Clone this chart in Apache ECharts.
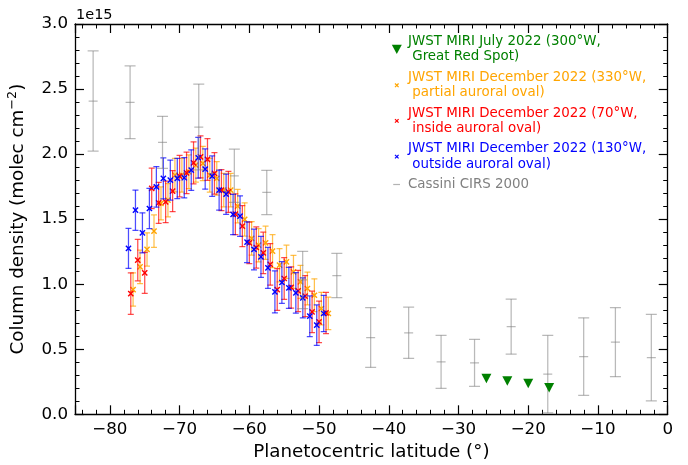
<!DOCTYPE html>
<html>
<head>
<meta charset="utf-8">
<script src="https://cdn.jsdelivr.net/npm/echarts@6/dist/echarts.min.js"></script>
<style>
  html, body { margin: 0; padding: 0; background: #fff; }
  #chart { width: 688px; height: 465px; }
</style>
</head>
<body>
<div id="chart"></div>
<script>
// ---- Data (column density in units of 1e15 molec cm^-2) ----
const FONT = 'DejaVu Sans';

// Cassini CIRS 2000
const cassiniLat = [-82.4, -77.1, -72.45, -67.25, -62.15, -57.5, -52.35, -47.45, -42.6, -37.15, -32.5, -27.7, -22.45, -17.2, -12.05, -7.5, -2.35];
const cassiniVal = [2.408, 2.398, 2.090, 2.208, 1.833, 1.705, 1.033, 1.066, 0.590, 0.626, 0.403, 0.395, 0.674, 0.308, 0.444, 0.554, 0.436];
const cassiniErr = [0.385, 0.280, 0.200, 0.330, 0.205, 0.170, 0.220, 0.170, 0.230, 0.197, 0.204, 0.180, 0.212, 0.298, 0.298, 0.265, 0.332];

// JWST MIRI July 2022, Great Red Spot
const grsLat = [-26, -23, -20, -17];
const grsVal = [0.275, 0.256, 0.237, 0.205];

// JWST MIRI December 2022, 330°W (partial auroral oval)
const orangeLat = [-76.67, -75.67, -74.67, -73.67, -72.67, -71.67, -70.67, -69.67, -68.67, -67.67, -66.67, -65.67, -64.67, -63.67, -62.67, -61.67, -60.67, -59.67, -58.67, -57.67, -56.67, -55.67, -54.67, -53.67, -52.67, -51.67, -50.67, -49.67, -48.67];
const orangeVal = [0.959, 1.133, 1.267, 1.408, 1.621, 1.646, 1.838, 1.838, 1.864, 1.915, 1.928, 1.838, 1.813, 1.723, 1.723, 1.600, 1.498, 1.352, 1.300, 1.318, 1.254, 1.146, 1.172, 1.095, 1.018, 0.967, 0.915, 0.813, 0.775];
const orangeErr = [0.128, 0.128, 0.128, 0.124, 0.127, 0.128, 0.129, 0.130, 0.130, 0.131, 0.132, 0.130, 0.129, 0.128, 0.128, 0.128, 0.128, 0.129, 0.128, 0.128, 0.127, 0.128, 0.128, 0.127, 0.127, 0.126, 0.126, 0.125, 0.125];

// JWST MIRI December 2022, 70°W (inside auroral oval)
const redLat = [-77.0, -76.0, -75.0, -74.0, -73.0, -72.0, -71.0, -70.0, -69.0, -68.0, -67.0, -66.0, -65.0, -64.0, -63.0, -62.0, -61.0, -60.0, -59.0, -58.0, -57.0, -56.0, -55.0, -54.0, -53.0, -52.0, -51.0, -50.0, -49.0];
const redVal = [0.928, 1.185, 1.087, 1.736, 1.625, 1.633, 1.715, 1.831, 1.856, 1.933, 1.979, 1.959, 1.852, 1.723, 1.710, 1.538, 1.446, 1.318, 1.282, 1.241, 1.152, 0.959, 1.044, 0.975, 0.948, 0.908, 0.787, 0.710, 0.779];
const redErr = [0.159, 0.159, 0.157, 0.156, 0.158, 0.160, 0.158, 0.159, 0.160, 0.161, 0.162, 0.160, 0.159, 0.158, 0.158, 0.157, 0.158, 0.159, 0.158, 0.159, 0.160, 0.161, 0.160, 0.159, 0.158, 0.158, 0.159, 0.160, 0.158];

// JWST MIRI December 2022, 130°W (outside auroral oval)
const blueLat = [-77.33, -76.33, -75.33, -74.33, -73.33, -72.33, -71.33, -70.33, -69.33, -68.33, -67.33, -66.33, -65.33, -64.33, -63.33, -62.33, -61.33, -60.33, -59.33, -58.33, -57.33, -56.33, -55.33, -54.33, -53.33, -52.33, -51.33, -50.33, -49.33];
const blueVal = [1.275, 1.569, 1.395, 1.582, 1.748, 1.813, 1.800, 1.813, 1.818, 1.877, 1.972, 1.885, 1.831, 1.723, 1.692, 1.536, 1.523, 1.323, 1.267, 1.210, 1.125, 0.941, 1.013, 0.972, 0.933, 0.895, 0.754, 0.685, 0.775];
const blueErr = [0.154, 0.155, 0.154, 0.154, 0.156, 0.158, 0.154, 0.155, 0.155, 0.156, 0.157, 0.155, 0.155, 0.154, 0.155, 0.155, 0.156, 0.157, 0.156, 0.157, 0.158, 0.162, 0.160, 0.157, 0.156, 0.154, 0.156, 0.156, 0.140];

// Axis tick labels
const xTickValues = [-80, -70, -60, -50, -40, -30, -20, -10, 0];
const yTickValues = [0.0, 0.5, 1.0, 1.5, 2.0, 2.5, 3.0];

// Legend entries (two-line labels)
const legendEntries = [
  { lines: ['JWST MIRI July 2022 (300°W,', ' Great Red Spot)'], color: '#008000', icon: 'tri' },
  { lines: ['JWST MIRI December 2022 (330°W,', ' partial auroral oval)'], color: '#ffa500', icon: 'x' },
  { lines: ['JWST MIRI December 2022 (70°W,', ' inside auroral oval)'], color: '#ff0000', icon: 'x' },
  { lines: ['JWST MIRI December 2022 (130°W,', ' outside auroral oval)'], color: '#0000ff', icon: 'x' },
  { lines: ['Cassini CIRS 2000'], color: '#808080', icon: 'dash' }
];

// ---- Helpers ----
function zip3(a, b, c) { return a.map((v, i) => [v, b[i], c[i]]); }

// Error bar with caps, plus an 'x' marker or a short centre dash
function errorBarRenderer(color, barOpacity, capHalf, centre) {
  return function (params, api) {
    const x = api.value(0), y = api.value(1), e = api.value(2);
    const pc = api.coord([x, y]);
    const pt = api.coord([x, y + e]);
    const pb = api.coord([x, y - e]);
    const st = { stroke: color, lineWidth: 1.25, opacity: barOpacity };
    const kids = [
      { type: 'line', shape: { x1: pt[0], y1: pt[1], x2: pb[0], y2: pb[1] }, style: st },
      { type: 'line', shape: { x1: pt[0] - capHalf, y1: pt[1], x2: pt[0] + capHalf, y2: pt[1] }, style: st },
      { type: 'line', shape: { x1: pb[0] - capHalf, y1: pb[1], x2: pb[0] + capHalf, y2: pb[1] }, style: st }
    ];
    if (centre === 'x') {
      const s = 2.6;
      const ms = { stroke: color, lineWidth: 1.4 };
      kids.push({ type: 'line', shape: { x1: pc[0] - s, y1: pc[1] - s, x2: pc[0] + s, y2: pc[1] + s }, style: ms });
      kids.push({ type: 'line', shape: { x1: pc[0] - s, y1: pc[1] + s, x2: pc[0] + s, y2: pc[1] - s }, style: ms });
    } else if (centre === 'dash') {
      kids.push({ type: 'line', shape: { x1: pc[0] - 4.5, y1: pc[1], x2: pc[0] + 4.5, y2: pc[1] }, style: st });
    }
    return { type: 'group', children: kids };
  };
}

function errorSeries(name, lat, val, err, color, barOpacity, capHalf, centre, z) {
  return {
    name: name,
    type: 'custom',
    xAxisIndex: 0, yAxisIndex: 0,
    data: zip3(lat, val, err),
    encode: { x: 0, y: 1 },
    renderItem: errorBarRenderer(color, barOpacity, capHalf, centre),
    clip: true,
    silent: true,
    z: z
  };
}

const axisCommon = {
  axisLine: { show: true, onZero: false, lineStyle: { color: '#000', width: 1.3 } },
  axisTick: { show: true, inside: true, length: 9, lineStyle: { color: '#000', width: 1.2 } },
  minorTick: { show: true, splitNumber: 5, length: 4.5, lineStyle: { color: '#000', width: 1 } },
  splitLine: { show: false },
  minorSplitLine: { show: false }
};

const xFmt = v => (xTickValues.indexOf(v) >= 0 ? (v < 0 ? '\u2212' + (-v) : String(v)) : '');
const yFmt = v => (yTickValues.indexOf(Math.round(v * 10) / 10) >= 0 ? v.toFixed(1) : '');

// ---- Legend drawn as graphic elements ----
const legendGraphics = [];
const legendLeft = 408;
const entryTops = [41.7, 77.7, 113.3, 149.0, 184.5];
legendEntries.forEach((entry, i) => {
  const y0 = entryTops[i];
  entry.lines.forEach((line, j) => {
    legendGraphics.push({
      type: 'text', x: legendLeft, y: y0 + j * 15.2,
      style: { text: line, fill: entry.color, font: '13.4px "' + FONT + '"', textVerticalAlign: 'middle', textAlign: 'left' },
      silent: true
    });
  });
  const cy = entry.lines.length === 2 ? y0 + 7.6 : y0;
  const cx = 396.8;
  if (entry.icon === 'tri') {
    legendGraphics.push({ type: 'polygon', shape: { points: [[cx - 5, cy - 4.6], [cx + 5, cy - 4.6], [cx, cy + 4.6]] }, style: { fill: entry.color }, silent: true });
  } else if (entry.icon === 'x') {
    const s = 1.8;
    legendGraphics.push({ type: 'line', shape: { x1: cx - s, y1: cy - s, x2: cx + s, y2: cy + s }, style: { stroke: entry.color, lineWidth: 1.2 }, silent: true });
    legendGraphics.push({ type: 'line', shape: { x1: cx - s, y1: cy + s, x2: cx + s, y2: cy - s }, style: { stroke: entry.color, lineWidth: 1.2 }, silent: true });
  } else {
    legendGraphics.push({ type: 'line', shape: { x1: cx - 3.6, y1: cy, x2: cx + 3.2, y2: cy }, style: { stroke: entry.color, lineWidth: 1.2, opacity: 0.6 }, silent: true });
  }
});
// scale offset label of the y axis
legendGraphics.push({
  type: 'text', x: 76, y: 15,
  style: { text: '1e15', fill: '#000', font: '14.5px "' + FONT + '"', textVerticalAlign: 'middle', textAlign: 'left' },
  silent: true
});

const chart = echarts.init(document.getElementById('chart'), null, { renderer: 'canvas' });

chart.setOption({
  animation: false,
  backgroundColor: '#fff',
  textStyle: { fontFamily: FONT },
  grid: { left: 75, top: 24, right: 20.3, bottom: 50.7, containLabel: false, outerBoundsMode: 'none' },
  xAxis: [
    Object.assign({}, axisCommon, {
      type: 'value', position: 'bottom', min: -85, max: 0,
      splitNumber: 9, minInterval: 10, maxInterval: 10,
      axisLabel: { show: true, inside: false, margin: 7, showMinLabel: false, formatter: xFmt, color: '#000', fontSize: 16.7, fontFamily: FONT },
      name: 'Planetocentric latitude (°)', nameLocation: 'middle', nameGap: 28,
      nameTextStyle: { fontSize: 18.3, color: '#000', fontFamily: FONT }
    }),
    Object.assign({}, axisCommon, {
      type: 'value', position: 'top', min: -85, max: 0,
      splitNumber: 9, minInterval: 10, maxInterval: 10,
      axisLabel: { show: false }
    })
  ],
  yAxis: [
    Object.assign({}, axisCommon, {
      type: 'value', position: 'left', min: 0, max: 3, interval: 0.5,
      axisLabel: { show: true, margin: 7, formatter: yFmt, color: '#000', fontSize: 16.7, fontFamily: FONT },
      name: 'Column density (molec cm{sup|\u22122})', nameLocation: 'middle', nameGap: 39,
      nameTextStyle: {
        fontSize: 18.3, color: '#000', fontFamily: FONT, lineHeight: 24,
        rich: { sup: { fontSize: 12.8, fontFamily: FONT, color: '#000', verticalAlign: 'top', lineHeight: 16 } }
      }
    }),
    Object.assign({}, axisCommon, {
      type: 'value', position: 'right', min: 0, max: 3, interval: 0.5,
      axisLabel: { show: false }
    })
  ],
  graphic: legendGraphics,
  series: [
    errorSeries('JWST MIRI December 2022 (330°W)', orangeLat, orangeVal, orangeErr, '#ffa500', 0.7, 3, 'x', 2),
    errorSeries('JWST MIRI December 2022 (70°W)', redLat, redVal, redErr, '#ff0000', 0.7, 3, 'x', 3),
    errorSeries('JWST MIRI December 2022 (130°W)', blueLat, blueVal, blueErr, '#0000ff', 0.7, 3, 'x', 4),
    errorSeries('Cassini CIRS 2000', cassiniLat, cassiniVal, cassiniErr, '#808080', 0.55, 5.5, 'dash', 5),
    {
      name: 'JWST MIRI July 2022 (300°W)',
      type: 'scatter',
      data: grsLat.map((v, i) => [v, grsVal[i]]),
      symbol: 'triangle', symbolRotate: 180, symbolSize: [10, 9.5],
      itemStyle: { color: '#008000', opacity: 1 },
      z: 6, silent: true
    }
  ]
});
</script>
</body>
</html>
